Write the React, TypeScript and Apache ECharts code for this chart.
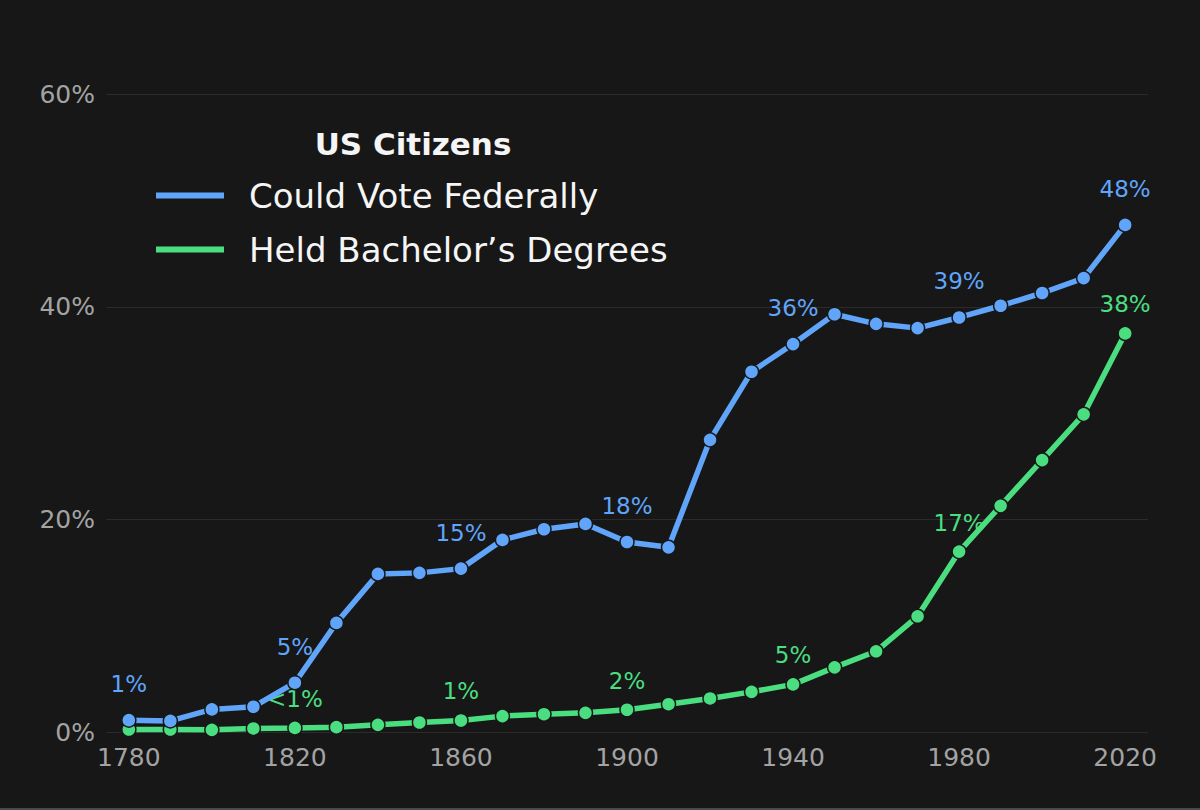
import React, { useEffect, useRef } from "react";
import * as echarts from "echarts";

const years = [1780, 1790, 1800, 1810, 1820, 1830, 1840, 1850, 1860, 1870, 1880, 1890, 1900, 1910, 1920, 1930, 1940, 1950, 1960, 1970, 1980, 1990, 2000, 2010, 2020];
const voteShare = [1.16, 1.09, 2.17, 2.42, 4.68, 10.3, 14.9, 15.0, 15.4, 18.1, 19.1, 19.6, 17.9, 17.4, 27.5, 33.9, 36.5, 39.3, 38.4, 38.0, 39.0, 40.1, 41.3, 42.7, 47.7];
const degreeShare = [0.28, 0.28, 0.25, 0.38, 0.43, 0.5, 0.72, 0.94, 1.13, 1.54, 1.72, 1.85, 2.14, 2.66, 3.2, 3.82, 4.52, 6.12, 7.63, 10.92, 17.0, 21.3, 25.6, 29.9, 37.5];
const voteLabels: Record<number, string> = { 1780: "1%", 1820: "5%", 1860: "15%", 1900: "18%", 1940: "36%", 1980: "39%", 2020: "48%" };
const degreeLabels: Record<number, string> = { 1820: "<1%", 1860: "1%", 1900: "2%", 1940: "5%", 1980: "17%", 2020: "38%" };
const xTicks = [1780, 1820, 1860, 1900, 1940, 1980, 2020];
const yTicks = [0, 20, 40, 60];
const seriesNames = ["Could Vote Federally", "Held Bachelor\u2019s Degrees"];
const legendTitle = "US Citizens";

const BG = "#171717";
const BLUE = "#60a5fa";
const GREEN = "#4ade80";
const FONT = "DejaVu Sans";

export default function App() {
  const ref = useRef<HTMLDivElement>(null);
  useEffect(() => {
    document.body.style.margin = "0";
    const chart = echarts.init(ref.current!, null, { renderer: "svg" });
    const mk = (vals: number[], labels: Record<number, string>, color: string, dy: number) =>
      years.map((y, i) => {
        const item: any = { value: [y, vals[i]] };
        if (labels[y]) {
          item.label = {
            show: true,
            position: "inside",
            offset: [0, dy],
            formatter: labels[y],
            color,
            fontSize: 23,
            fontFamily: FONT,
          };
        }
        return item;
      });
    chart.setOption({
      animation: false,
      backgroundColor: BG,
      textStyle: { fontFamily: FONT },
      grid: { left: 106, right: 52, top: 94, bottom: 77.5, containLabel: false },
      xAxis: {
        type: "value",
        min: 1774.5,
        max: 2025.5,
        splitLine: { show: false },
        axisLine: { show: false },
        axisTick: { show: false },
        axisLabel: {
          customValues: xTicks,
          color: "#a3a3a3",
          fontSize: 25,
          fontFamily: FONT,
          margin: 12,
          formatter: (v: number) => String(v),
        },
      },
      yAxis: {
        type: "value",
        min: 0,
        max: 60,
        interval: 20,
        axisLine: { show: false },
        axisTick: { show: false },
        splitLine: { lineStyle: { color: "#2b2b2b", width: 1.2 } },
        axisLabel: {
          color: "#a3a3a3",
          fontSize: 25,
          fontFamily: FONT,
          margin: 11,
          formatter: (v: number) => (yTicks.includes(v) ? v + "%" : ""),
        },
      },
      legend: {
        orient: "vertical",
        left: 151,
        top: 170.5,
        icon: "rect",
        itemWidth: 68,
        itemHeight: 6,
        itemGap: 14,
        itemStyle: { borderWidth: 0 },
        lineStyle: { width: 0 },
        data: seriesNames,
        textStyle: { color: "#f5f5f5", fontSize: 34, fontFamily: FONT, lineHeight: 40, padding: [0, 0, 0, 20] },
      },
      graphic: [
        {
          type: "text",
          x: 413,
          y: 144,
          style: {
            text: legendTitle,
            fill: "#f5f5f5",
            font: `bold 31px "${FONT}"`,
            textAlign: "center",
            textVerticalAlign: "middle",
          },
        },
        { type: "rect", shape: { x: 0, y: 808, width: 1200, height: 2 }, style: { fill: "#4a4a4a" } },
      ],
      series: [
        {
          name: seriesNames[0],
          type: "line",
          data: mk(voteShare, voteLabels, BLUE, -36),
          color: BLUE,
          lineStyle: { width: 5.5, color: BLUE },
          symbol: "circle",
          symbolSize: 14,
          itemStyle: { color: BLUE, borderColor: BG, borderWidth: 1.5 },
          z: 3,
        },
        {
          name: seriesNames[1],
          type: "line",
          data: mk(degreeShare, degreeLabels, GREEN, -29),
          color: GREEN,
          lineStyle: { width: 5.5, color: GREEN },
          symbol: "circle",
          symbolSize: 14,
          itemStyle: { color: GREEN, borderColor: BG, borderWidth: 1.5 },
          z: 2,
        },
      ],
    });
    return () => chart.dispose();
  }, []);
  return <div ref={ref} style={{ width: 1200, height: 810 }} />;
}
